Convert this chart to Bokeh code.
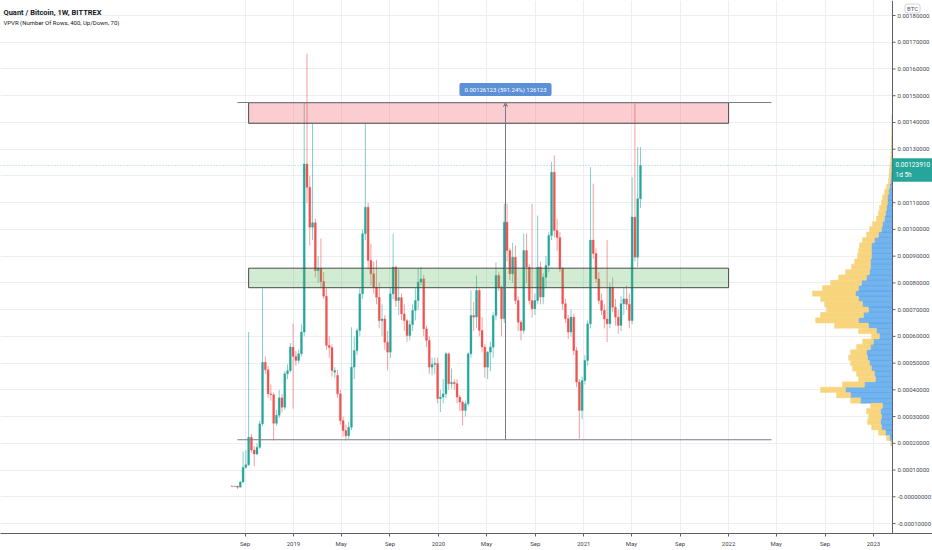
import numpy as np
import pandas as pd
from bokeh.plotting import figure
from bokeh.models import Range1d, FixedTicker, Label, Arrow, VeeHead, ColumnDataSource
from bokeh.core.properties import value
from bokeh.embed import file_html
from bokeh.resources import INLINE

# QNT/BTC weekly candles, prices in satoshi, first week starts 2018-07-30
first_week = "2018-07-30"
opens = [
    4000, 3900, 4000, 3600, 5500, 11000, 12000, 22300, 17500, 16000,
    18500, 27300, 50300, 47500, 38500, 38200, 27500, 30500, 37000, 33500,
    46000, 47200, 56000, 52500, 51000, 53500, 61600, 124500, 115800, 100800,
    102500, 84600, 85500, 80500, 75000, 56600, 55800, 46600, 45400, 38500,
    28500, 24800, 22800, 26000, 48500, 54700, 62200, 75900, 98400, 108300,
    88400, 83400, 78400, 74600, 65900, 66500, 57800, 54100, 75900, 85900,
    73400, 74500, 68400, 65900, 60300, 64400, 69700, 73400, 80300, 81500,
    62800, 58500, 48500, 49500, 49900, 36700, 37300, 38500, 53500, 42300,
    42800, 42300, 37300, 35400, 32300, 34800, 53500, 67800, 67200, 77200,
    62200, 56000, 48500, 54100, 56000, 67800, 82800, 78400, 66600, 102700,
    92100, 83400, 89600, 73400, 65300, 62200, 92100, 85900, 73400, 70300,
    73400, 85900, 74700, 82100, 86500, 97700, 121400, 99600, 97000, 85300,
    72200, 66600, 61600, 67200, 54700, 42900, 32300, 43500, 51000, 64700,
    96000, 91000, 81500, 73400, 69700, 66500, 64700, 78400, 70900, 67200,
    64100, 72200, 74000, 72000, 65900, 104600, 89600, 111500,
]
highs = [
    4200, 4100, 4100, 6000, 17000, 17500, 61600, 23500, 19000, 20000,
    28500, 77900, 52500, 49000, 42000, 39000, 32500, 40000, 38500, 47000,
    49500, 57500, 64800, 54500, 55000, 64500, 147600, 165700, 120000, 139500,
    104000, 90000, 96600, 84000, 78000, 60000, 57000, 48500, 47500, 40000,
    30000, 27000, 28000, 63400, 60000, 63000, 78000, 100000, 139500, 110000,
    94600, 88000, 88500, 80000, 72000, 68000, 62000, 78000, 98400, 86500,
    85000, 76000, 72000, 66500, 66000, 72000, 78000, 85300, 86000, 83000,
    64000, 60000, 52000, 52000, 52000, 40000, 44000, 54100, 54000, 48000,
    44000, 44000, 38000, 36000, 36000, 54000, 77200, 73000, 82800, 78000,
    67200, 57000, 54500, 58000, 69000, 87700, 84000, 79000, 109600, 109600,
    93000, 95000, 94000, 75000, 66000, 98400, 98400, 87000, 109600, 76000,
    105200, 88000, 83500, 90000, 99000, 125200, 127700, 104000, 99000, 86000,
    74000, 68000, 70000, 68500, 56000, 44000, 45000, 53000, 66000, 123300,
    117100, 93000, 84000, 76000, 72000, 96000, 80000, 82000, 74000, 70000,
    75000, 78000, 79000, 76000, 119500, 147100, 130800, 130800,
]
lows = [
    3800, 3700, 2900, 3500, 5000, 10500, 11500, 16500, 11500, 15500,
    18000, 26500, 46000, 37000, 36000, 21000, 26500, 29500, 31500, 32500,
    44000, 46500, 33000, 49000, 50000, 52500, 60000, 110000, 94000, 96000,
    82000, 80000, 78000, 74000, 55000, 52000, 45000, 44500, 37000, 27000,
    22500, 21000, 21500, 25000, 44000, 53000, 60000, 74000, 96000, 85000,
    79000, 76000, 72000, 63000, 60000, 55000, 47200, 52000, 74000, 71000,
    68000, 66000, 62000, 58000, 58500, 62000, 66000, 70000, 79000, 60000,
    56000, 46000, 45500, 46000, 35000, 31700, 35000, 37000, 40000, 40500,
    40000, 35000, 32000, 26700, 30000, 34000, 52000, 62000, 63000, 60000,
    54000, 44500, 44000, 47000, 52000, 66000, 77000, 60000, 65000, 88000,
    81000, 80000, 72000, 62000, 58500, 61000, 80000, 72000, 67000, 68000,
    72000, 72000, 72000, 78000, 84000, 96000, 97000, 92000, 84000, 70000,
    65000, 59000, 60000, 53000, 41000, 21700, 29000, 42000, 49000, 63000,
    89000, 80000, 72000, 68000, 63000, 57800, 63000, 69000, 64000, 61000,
    62000, 68000, 70000, 63000, 64500, 88000, 86000, 108000,
]
closes = [
    3900, 4000, 3600, 5500, 11000, 12000, 22300, 17500, 16000, 18500,
    27300, 50300, 47500, 38500, 38200, 27500, 30500, 37000, 33500, 46000,
    47200, 56000, 52500, 51000, 53500, 61600, 124500, 115800, 100800, 102500,
    84600, 85500, 80500, 75000, 56600, 55800, 47200, 47200, 38500, 28500,
    24800, 22800, 26000, 48500, 54700, 62200, 75900, 98400, 108300, 88400,
    83400, 78400, 74600, 65900, 66500, 57800, 54100, 75900, 85900, 73400,
    74500, 68400, 65900, 60300, 64400, 69700, 73400, 80300, 81500, 62800,
    58500, 48500, 49500, 49900, 36700, 37300, 38500, 53500, 42300, 42800,
    42300, 37300, 35400, 32300, 34800, 53500, 67800, 67200, 77200, 62200,
    56000, 48500, 54100, 56000, 67800, 82800, 78400, 66600, 102700, 92100,
    83400, 89600, 73400, 65300, 62200, 92100, 85900, 73400, 70300, 73400,
    85900, 74700, 82100, 86500, 97700, 121400, 99600, 97000, 85300, 72200,
    66600, 61600, 67200, 54700, 42900, 32300, 43500, 51000, 64700, 96000,
    91000, 81500, 73400, 69700, 66500, 64700, 78400, 70900, 67200, 64100,
    72200, 74000, 72000, 65900, 104600, 89600, 111500, 123910,
]

# VPVR rows (price in satoshi) and up / down volume per row
vp_rows = list(range(20000, 144000, 2000))
vp_up = [1, 3, 7, 11, 12, 11, 12, 10, 32, 42, 47, 28, 17, 18, 21, 23, 25, 26, 22, 19,
         13, 16, 24, 34, 29, 24, 30, 34, 37, 34, 31, 26, 23, 22, 22, 21, 21, 21, 18, 14,
         11, 10, 8, 7, 6, 5, 5, 4, 3, 2, 1.5, 1.3, 1.2, 1, 1, 0.8, 0.7, 0.6, 0.5, 0.4,
         0.3, 0.3]
vp_down = [1, 3, 7, 10, 13, 13, 14, 12, 10, 14, 25, 22, 17, 18, 19, 19, 19, 16, 14, 11,
           8, 18, 34, 43, 43, 42, 38, 38, 43, 36, 31, 28, 24, 19, 16, 14, 13, 12, 12, 12,
           12, 10, 8, 7, 7, 6, 5, 4, 3, 2, 2, 1.7, 1.3, 1, 0.6, 0.5, 0.4, 0.3, 0.3, 0.2,
           0.2, 0.1]

# drawings
measure_low = 21332
measure_high = 147455
resist_box = (139700, 147400)
support_box = (78200, 85500)
box_dates = ("2018-09-10", "2022-01-01")
measure_dates = ("2018-08-13", "2022-04-19")
measure_mid = "2020-06-18"

# axis ticks
tick_dates = ["2018-09-01", "2019-01-01", "2019-05-01", "2019-09-01", "2020-01-01",
              "2020-05-01", "2020-09-01", "2021-01-01", "2021-05-01", "2021-09-01",
              "2022-01-01", "2022-05-01", "2022-09-01", "2023-01-01"]
tick_names = ["Sep", "2019", "May", "Sep", "2020", "May", "Sep", "2021", "May", "Sep",
              "2022", "May", "Sep", "2023"]
price_ticks = list(range(-10000, 190000, 10000))


def ms(d):
    return pd.Timestamp(d).value / 1e6


FONT = "Roboto"
NARROW = "'Liberation Sans Narrow', Roboto"
GREEN = "#26a69a"
RED = "#ef5350"
AXIS = "#5d606b"

# time scale: one year is 145 px, 2019-01-01 sits 293 px from the left edge,
# the price scale starts 892 px from the left and is 40 px wide
px_per_day = 145 / 365.25
origin = pd.Timestamp("2019-01-01")
x_start = origin - pd.Timedelta(days=293 / px_per_day)
x_end = origin + pd.Timedelta(days=639 / px_per_day)
price_axis_x = origin + pd.Timedelta(days=599 / px_per_day)
tick_len = pd.Timedelta(days=3 / px_per_day)
y_lo, y_hi = -13726, 185616

p = figure(width=932, height=550, x_axis_type="datetime", y_axis_location=None,
           x_range=Range1d(x_start, x_end), y_range=Range1d(y_lo, y_hi),
           output_backend="svg", toolbar_location=None,
           min_border_left=0, min_border_top=0, min_border_right=0, min_border_bottom=17)
p.outline_line_color = None
p.background_fill_color = "white"

# grid
p.xgrid.grid_line_color = "#eceef3"
p.ygrid.ticker = FixedTicker(ticks=price_ticks)
p.ygrid.grid_line_color = "#eceef3"

# volume profile on its own reversed x scale (0 at the price scale)
p.extra_x_ranges = {"vp": Range1d(start=892, end=-40)}
vp_up_arr = np.array(vp_up)
vp_tot = vp_up_arr + np.array(vp_down)
p.hbar(y=vp_rows, left=0, right=vp_up_arr, height=2000, x_range_name="vp",
       fill_color="#72b4f0", line_color="#4a92d8", line_width=0.4)
p.hbar(y=vp_rows, left=vp_up_arr, right=vp_tot, height=2000, x_range_name="vp",
       fill_color="#f8d57d", line_color="#f8d57d", line_width=0.4)

# candles
dates = pd.date_range(first_week, periods=len(opens), freq="7D")
o = np.array(opens)
c = np.array(closes)
src = ColumnDataSource(dict(
    date=dates, high=highs, low=lows,
    top=np.maximum(o, c), bottom=np.minimum(o, c),
    color=np.where(c >= o, GREEN, RED),
))
p.segment(x0="date", y0="low", x1="date", y1="high", line_color="color",
          line_width=0.7, line_alpha=0.8, source=src)
p.vbar(x="date", width=5 * 86400000, top="top", bottom="bottom",
       fill_color="color", line_color="color", line_width=0.3, source=src)

# last price line
p.segment(x0=[x_start], x1=[price_axis_x], y0=[closes[-1]], y1=[closes[-1]],
          line_color=GREEN, line_dash="1 2", line_width=1, line_alpha=0.5)

# rectangles
p.quad(left=[ms(box_dates[0])], right=[ms(box_dates[1])],
       bottom=[resist_box[0]], top=[resist_box[1]],
       fill_color="#f23645", fill_alpha=0.25, line_color="#4a4a4a", line_width=1)
p.quad(left=[ms(box_dates[0])], right=[ms(box_dates[1])],
       bottom=[support_box[0]], top=[support_box[1]],
       fill_color="#4caf50", fill_alpha=0.25, line_color="#4a4a4a", line_width=1)

# price range measurement
p.segment(x0=[ms(measure_dates[0])] * 2, x1=[ms(measure_dates[1])] * 2,
          y0=[measure_low, measure_high], y1=[measure_low, measure_high],
          line_color="#787b86", line_width=1)
p.add_layout(Arrow(end=VeeHead(size=4, line_color="#787b86", line_width=1, fill_color=None),
                   x_start=ms(measure_mid), y_start=measure_low,
                   x_end=ms(measure_mid), y_end=measure_high,
                   line_color="#787b86", line_width=1))
diff = measure_high - measure_low
pct = diff / measure_low * 100
p.add_layout(Label(x=ms(measure_mid), y=152300,
                   text=f"{diff / 1e8:.8f} ({pct:.2f}%) {diff}",
                   text_align="center", text_baseline="middle",
                   text_font=FONT, text_font_size="6px", text_color="white",
                   background_fill_color="#5b8fd6", padding=(5, 3), border_radius=2))

# price scale on the right
p.quad(left=[price_axis_x], right=[x_end], bottom=[y_lo], top=[y_hi],
       fill_color="white", line_color=None)
p.segment(x0=[price_axis_x], x1=[price_axis_x], y0=[y_lo], y1=[y_hi],
          line_color=AXIS, line_width=1)
p.segment(x0=[price_axis_x] * len(price_ticks), x1=[price_axis_x + tick_len] * len(price_ticks),
          y0=price_ticks, y1=price_ticks, line_color=AXIS, line_width=1)
price_labels = ["-0.00000000" if t == 0 else f"{t / 1e8:.8f}" for t in price_ticks]
p.text(x=[price_axis_x] * len(price_ticks), y=price_ticks, text=price_labels,
       x_offset=5, text_baseline="middle", text_font=value(NARROW),
       text_font_size="6px", text_color="#434651")

# titles
p.add_layout(Label(x=ms(x_start), y=181130, x_offset=3, text="Quant / Bitcoin, 1W, BITTREX",
                   text_baseline="middle", text_font=FONT, text_font_size="7.5px",
                   text_font_style="bold", text_color="#131722"))
p.add_layout(Label(x=ms(x_start), y=177390, x_offset=3,
                   text="VPVR (Number Of Rows, 400, Up/Down, 70)",
                   text_baseline="middle", text_font=FONT, text_font_size="6px",
                   text_color="#131722"))

# price tag (price on its line, countdown below) and currency on the price scale
p.add_layout(Label(x=ms(price_axis_x), y=closes[-1], x_offset=0, y_offset=-4.5,
                   text=f"{closes[-1] / 1e8:.8f}\n1d 5h",
                   text_align="left", text_baseline="middle",
                   text_font=NARROW, text_font_size="6.5px", text_color="white",
                   background_fill_color=GREEN, padding=(3, 3)))
p.add_layout(Label(x=ms(price_axis_x), y=182624, x_offset=20, text="BTC",
                   text_align="center", text_baseline="middle",
                   text_font=NARROW, text_font_size="6px", text_color="#50535e",
                   background_fill_color="white", border_line_color="#d1d4dc",
                   padding=(2, 1), border_radius=2))

# time axis
tick_ms = [int(ms(d)) for d in tick_dates]
ax = p.xaxis[0]
ax.ticker = FixedTicker(ticks=tick_ms)
ax.major_label_overrides = dict(zip(tick_ms, tick_names))
ax.axis_line_color = AXIS
ax.major_tick_line_color = AXIS
ax.major_tick_out = 3
ax.major_tick_in = 0
ax.minor_tick_line_color = None
ax.major_label_standoff = 3
ax.major_label_text_font = NARROW
ax.major_label_text_font_size = "6px"
ax.major_label_text_color = "#434651"

open("out.html", "w").write(file_html(p, INLINE))
